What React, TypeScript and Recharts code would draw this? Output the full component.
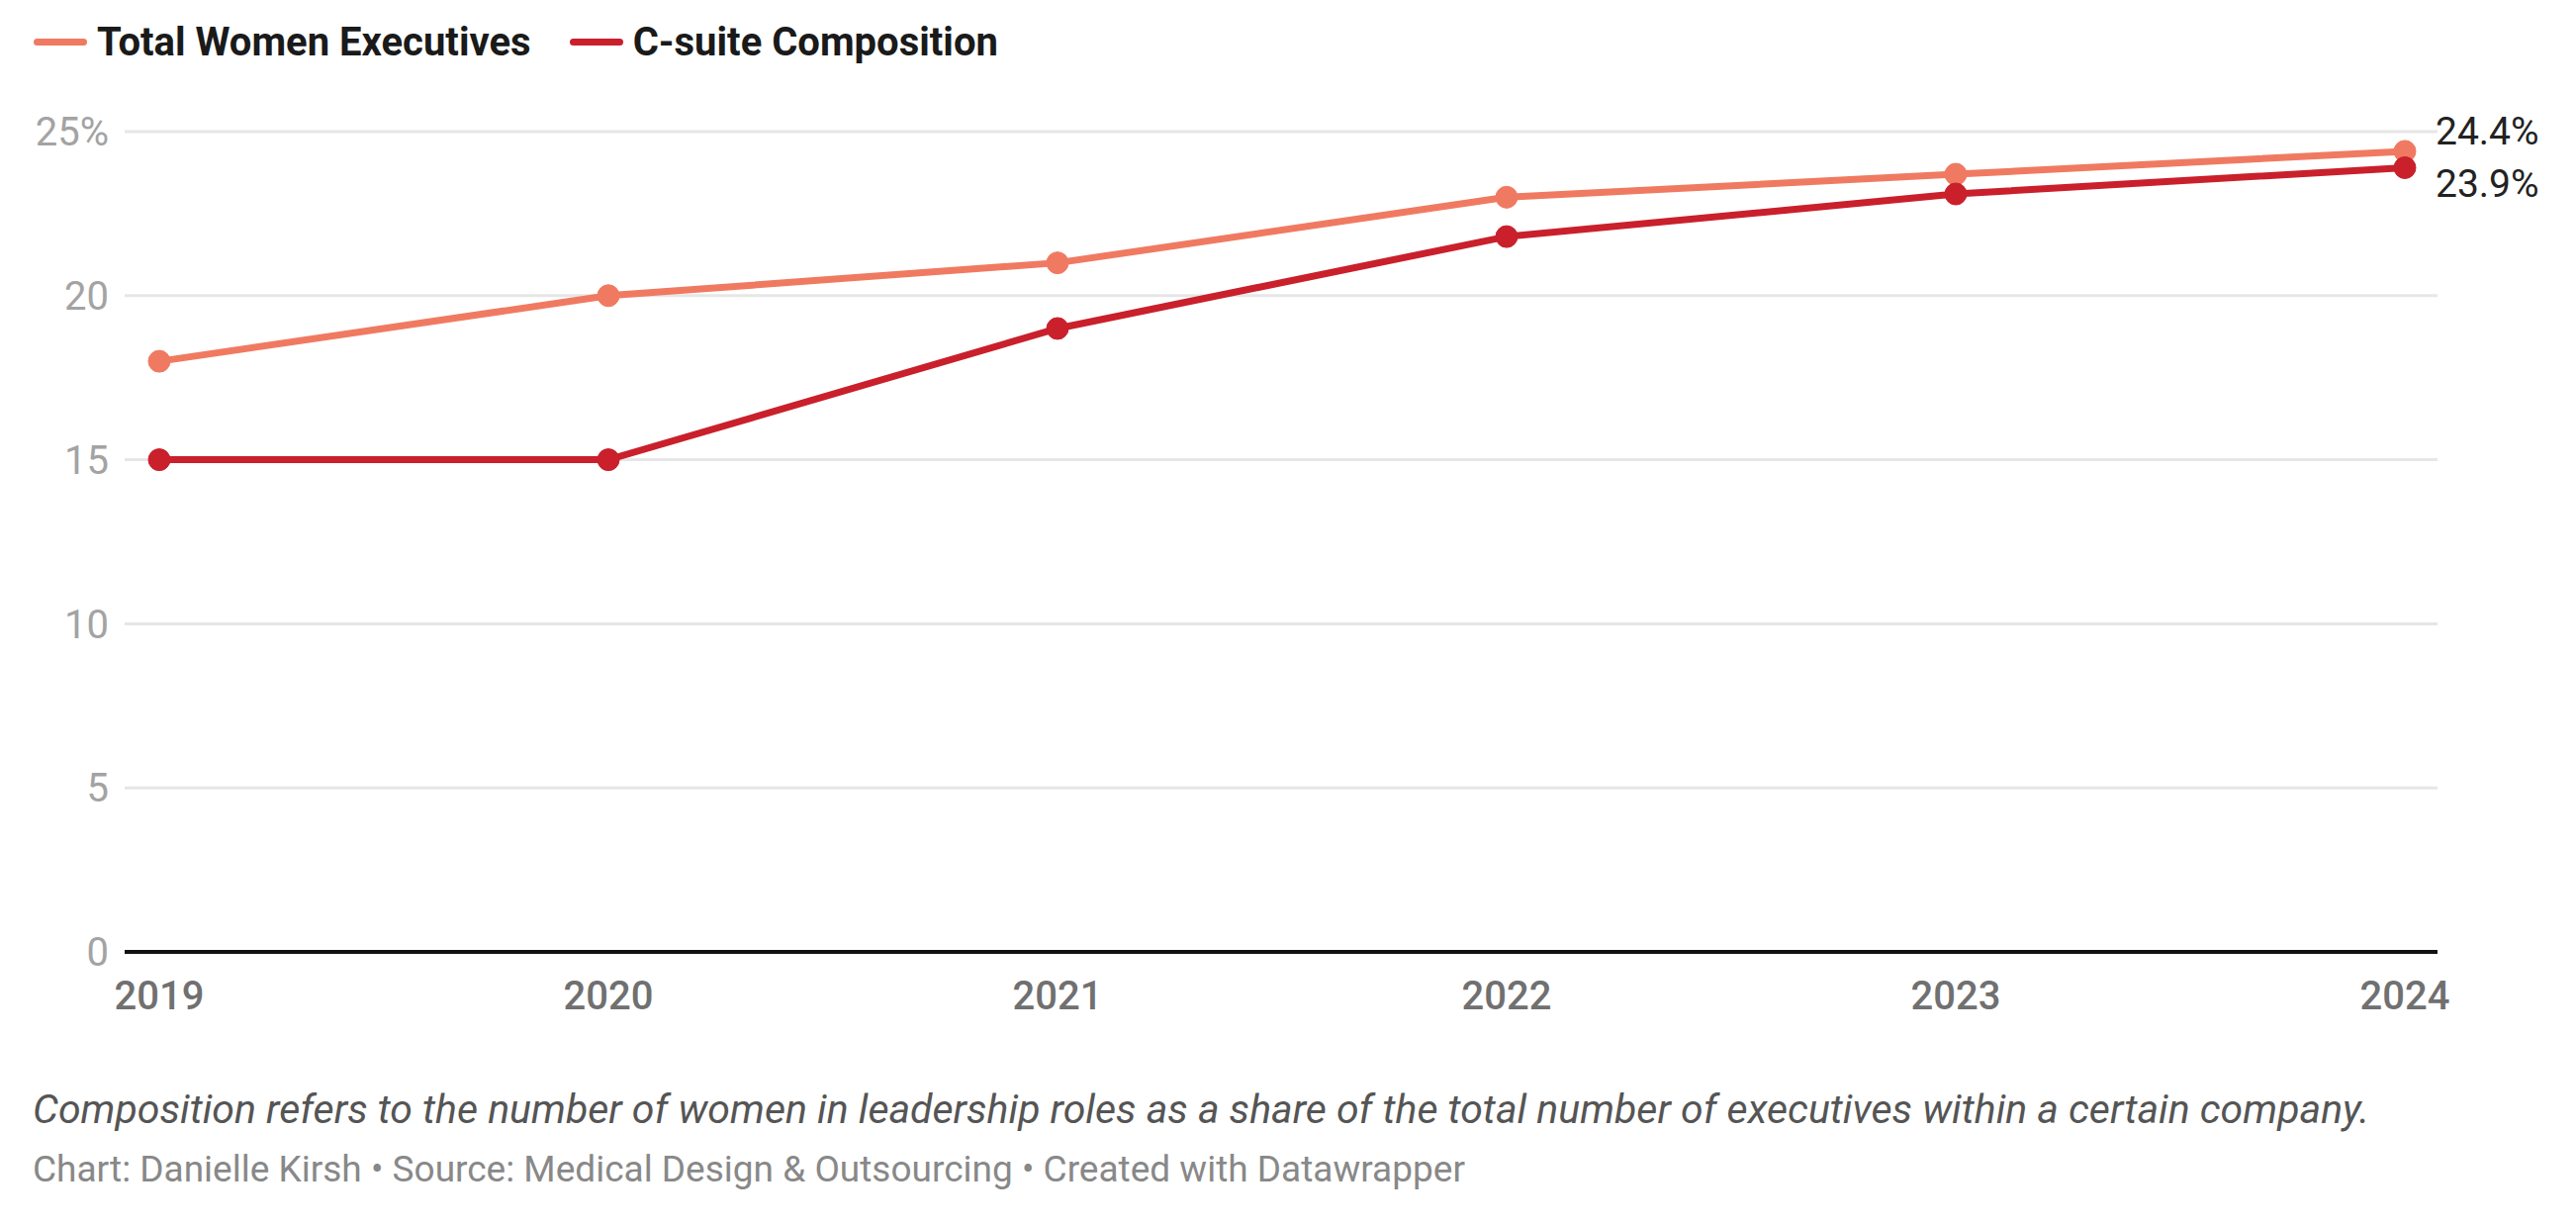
import React from 'react';
import { LineChart, Line, XAxis, YAxis, CartesianGrid, LabelList } from 'recharts';

const years = ['2019', '2020', '2021', '2022', '2023', '2024'];
const totalWomen = [18, 20, 21, 23, 23.7, 24.4];
const cSuite = [15, 15, 19, 21.8, 23.1, 23.9];
const yTicks = [0, 5, 10, 15, 20, 25];

const seriesNames = ['Total Women Executives', 'C-suite Composition'];
const colors = ['#f07a61', '#c9202c'];

const data = years.map((y, i) => ({ year: y, total: totalWomen[i], csuite: cSuite[i] }));

const FONT = 'Roboto, "Noto Sans", sans-serif';

const makeEndLabel = (dyOff: number) => (props: any) => {
  const { x, y, index, value } = props;
  if (index !== years.length - 1) return null;
  return (
    <text x={x + 31} y={y + dyOff} fontSize={39} fontFamily={FONT} fill="#222" dominantBaseline="central">
      {value.toFixed(1)}%
    </text>
  );
};

export default function App() {
  return (
    <div style={{ position: 'absolute', left: 0, top: 0, width: 2604, height: 1239, background: '#fff', fontFamily: FONT }}>
      <div style={{ position: 'absolute', left: 34, top: 16, height: 52, display: 'flex', alignItems: 'center' }}>
        {seriesNames.map((n, i) => (
          <div key={n} style={{ display: 'flex', alignItems: 'center', marginRight: 39 }}>
            <div style={{ width: 54, height: 7, borderRadius: 4, background: colors[i], marginRight: 10 }} />
            <span style={{ fontSize: 40, fontWeight: 700, color: '#1a1a1a' }}>{n}</span>
          </div>
        ))}
      </div>
      <LineChart width={2604} height={1050} data={data} margin={{ top: 133, right: 140, bottom: 58, left: 0 }}>
        <CartesianGrid horizontal vertical={false} stroke="#e6e6e6" strokeWidth={3} />
        <XAxis
          dataKey="year"
          axisLine={{ stroke: '#111', strokeWidth: 4 }}
          tickLine={false}
          tickSize={0}
          tickMargin={30}
          padding={{ left: 35, right: 33 }}
          tick={{ fontSize: 40, fontFamily: FONT, fill: '#707070', fontWeight: 500 }}
          interval={0}
        />
        <YAxis
          domain={[0, 25]}
          ticks={yTicks}
          width={126}
          axisLine={false}
          tickLine={false}
          tickSize={0}
          tickMargin={16}
          tick={{ fontSize: 40, fontFamily: FONT, fill: '#a3a3a3' }}
          tickFormatter={(v: number) => (v === 25 ? '25%' : String(v))}
        />
        <Line
          dataKey="total"
          name={seriesNames[0]}
          stroke={colors[0]}
          strokeWidth={7}
          dot={{ r: 11, fill: colors[0], stroke: colors[0], strokeWidth: 1 }}
          activeDot={false}
          isAnimationActive={false}
        >
          <LabelList dataKey="total" content={makeEndLabel(-20)} />
        </Line>
        <Line
          dataKey="csuite"
          name={seriesNames[1]}
          stroke={colors[1]}
          strokeWidth={7}
          dot={{ r: 11, fill: colors[1], stroke: colors[1], strokeWidth: 1 }}
          activeDot={false}
          isAnimationActive={false}
        >
          <LabelList dataKey="csuite" content={makeEndLabel(17)} />
        </Line>
      </LineChart>
      <div style={{ position: 'absolute', left: 33, top: 1097, fontSize: 41, fontStyle: 'italic', color: '#555', whiteSpace: 'nowrap' }}>
        Composition refers to the number of women in leadership roles as a share of the total number of executives within a certain company.
      </div>
      <div style={{ position: 'absolute', left: 33, top: 1160, fontSize: 37, color: '#888', whiteSpace: 'nowrap' }}>
        Chart: Danielle Kirsh • Source: Medical Design &amp; Outsourcing • Created with Datawrapper
      </div>
    </div>
  );
}
